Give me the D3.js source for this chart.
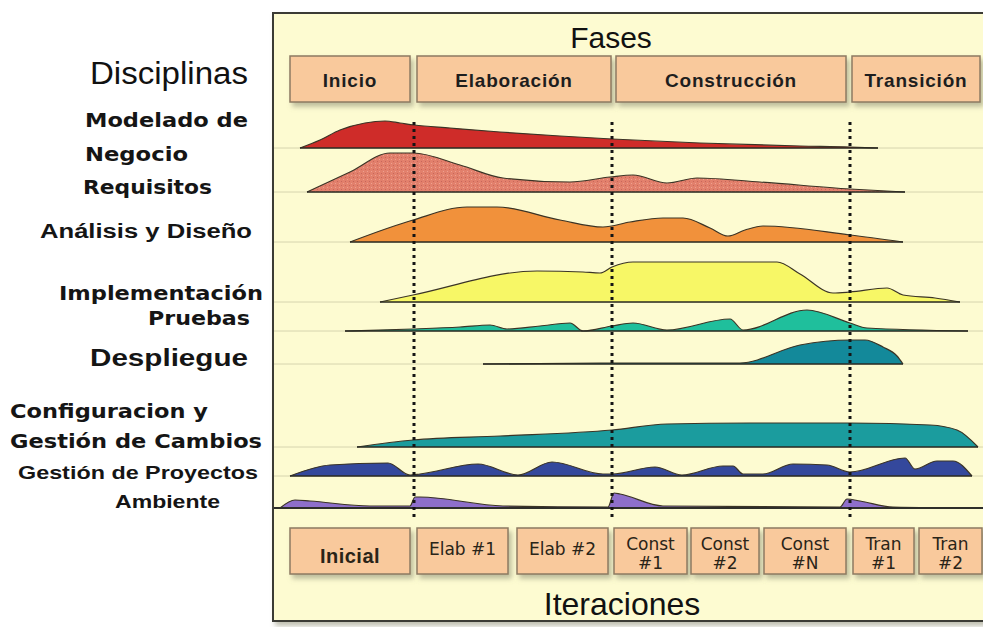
<!DOCTYPE html>
<html>
<head>
<meta charset="utf-8">
<script src="https://cdn.jsdelivr.net/npm/d3@7"></script>
<style>
  body { margin: 0; background: #ffffff; }
  svg { display: block; }
</style>
</head>
<body>
<svg id="vis"></svg>
<script>
(function() {
  // disciplinas (filas del gráfico)
  var disciplinas = ["Modelado de Negocio", "Requisitos", "Análisis y Diseño", "Implementación",
    "Pruebas", "Despliegue", "Configuracion y Gestión de Cambios", "Gestión de Proyectos", "Ambiente"];

  // esfuerzo por disciplina: [tiempo, esfuerzo]
  var modeladoNegocio = [[4,0],[8,8],[12,18],[17,25],[21,27],[24,25],[26.8,23],[34,20],[44,16],[56,12],[66.4,9],[84,5],[104,2],[114,1],[119.6,0]];
  var requisitos = [[5.4,0],[14,20],[22,39],[26.6,39],[36,27],[44.6,14],[58,10],[66,15],[70.6,17],[77.4,9],[83.4,14],[96,10],[114,3],[125,0]];
  var analisisDiseno = [[14,0],[26.6,22],[37.4,35],[43.4,35],[56,22],[64.6,15],[70,20],[76.6,24],[80.6,24],[86,14],[89.6,6],[93,12],[96.6,16],[114,7],[124.6,0]];
  var implementacion = [[20,0],[26.6,7],[51.4,31],[60.6,30],[64,29],[66.4,35],[70.6,40],[99.4,40],[104,28],[110.6,9],[114,10],[121.4,14],[124.6,7],[131,4],[136,0]];
  var pruebas = [[13,0],[26.6,2],[36,4],[42,6],[45.4,2],[52,5],[58,8],[60.6,0],[66.4,5],[70.6,8],[77.4,1],[90,12],[92.6,1],[105.4,21],[114,8],[117.4,3],[137.6,0]];
  var despliegue = [[40.6,0],[64,1],[92,1],[104,19],[114,24],[117,24],[120.6,17],[123.4,8],[124.6,0]];
  var configuracion = [[15.4,0],[26.6,7],[44,11],[66.4,17],[77.4,23],[94,24],[114,24],[130,22],[135.4,17],[139.6,0]];
  var gestionProyectos = [[2,0],[10,11],[21.6,13],[26,1],[28,2],[39.6,12],[47.6,1],[54.4,14],[64.6,2],[66.4,2],[75,9],[80.4,1],[88.6,10],[90.6,10],[92.6,2],[96.6,2],[102.6,12],[109.4,11],[114,4],[125,18],[127,7],[131.4,15],[134.6,15],[138.4,0]];
  var ambiente = [[0,0],[3,8],[6,7],[18,2],[26,2],[27,11],[28,11],[44.6,2],[65.6,1],[66.8,15],[68,14],[76.6,2],[112,1],[113.4,9],[116,7],[122.6,1],[140.6,0]];

  var esfuerzos = [modeladoNegocio, requisitos, analisisDiseno, implementacion, pruebas,
    despliegue, configuracion, gestionProyectos, ambiente];

  // fases
  var fases = ["Inicio", "Elaboración", "Construcción", "Transición"];
  var faseInicio = [2, 27.4, 67.2, 114.4];
  var faseFin = [26, 66.2, 113.2, 140];

  // iteraciones
  var iteraciones = ["Inicial", "Elab #1", "Elab #2", "Const #1", "Const #2", "Const #N", "Tran #1", "Tran #2"];
  var iterInicio = [2, 27.4, 47.4, 66.8, 82.2, 96.8, 114.6, 127.8];
  var iterFin = [26, 45.6, 65.6, 81.4, 95.8, 113.2, 126.8, 140.4];

  // hitos entre fases
  var hitos = [26.8, 66.4, 114];

  var colores = ["#cf2c29", "#e2806c", "#f1913b", "#f7f766", "#1fbf9c", "#13899a", "#1b9c9e", "#34489c", "#8e6fcb"];

  // layout
  var width = 983, height = 627;
  var filaBase = [148, 192, 242, 302, 331, 364, 447, 476, 508];
  var ancha = "'DejaVu Sans', Verdana, sans-serif";
  var estrecha = "'Liberation Sans', Arial, sans-serif";
  var etiquetas = [
    { t: "Modelado de", x0: 85, x1: 248, y: 127, s: 19, f: ancha },
    { t: "Negocio", x0: 85, x1: 188, y: 161, s: 19, f: ancha },
    { t: "Requisitos", x0: 83, x1: 212, y: 194, s: 19, f: ancha },
    { t: "Análisis y Diseño", x0: 40, x1: 252, y: 238, s: 20, f: estrecha },
    { t: "Implementación", x0: 59, x1: 263, y: 300, s: 19, f: ancha },
    { t: "Pruebas", x0: 148, x1: 250, y: 325, s: 19, f: ancha },
    { t: "Despliegue", x0: 90, x1: 248, y: 366, s: 23, f: estrecha },
    { t: "Configuracion y", x0: 10, x1: 208, y: 418, s: 20, f: ancha },
    { t: "Gestión de Cambios", x0: 10, x1: 262, y: 448, s: 20, f: ancha },
    { t: "Gestión de Proyectos", x0: 18, x1: 258, y: 479, s: 19, f: estrecha },
    { t: "Ambiente", x0: 115, x1: 220, y: 508, s: 18, f: estrecha }
  ];

  var chart = d3.select("#vis")
    .attr("width", width)
    .attr("height", height)
    .style("font-family", estrecha);

  var x = d3.scaleLinear().domain([0, 140]).range([280, 980]);
  var h = d3.scaleLinear().domain([0, 40]).range([0, 40]);

  var defs = chart.append("defs");
  var sombra = defs.append("filter").attr("id", "sombra")
    .attr("x", "-10%").attr("y", "-10%").attr("width", "130%").attr("height", "150%");
  sombra.append("feDropShadow").attr("dx", 3).attr("dy", 4).attr("stdDeviation", 2.5)
    .attr("flood-color", "#8a8a70").attr("flood-opacity", 0.55);

  var punteado = defs.append("pattern").attr("id", "punteado")
    .attr("width", 4).attr("height", 4).attr("patternUnits", "userSpaceOnUse");
  punteado.append("rect").attr("width", 4).attr("height", 4).attr("fill", colores[1]);
  punteado.append("rect").attr("x", 1).attr("y", 1).attr("width", 1).attr("height", 1).attr("fill", "#c8665a");
  punteado.append("rect").attr("x", 3).attr("y", 3).attr("width", 1).attr("height", 1).attr("fill", "#eea090");

  // panel
  chart.append("rect")
    .attr("x", 273).attr("y", 13).attr("width", 730).attr("height", 608)
    .attr("fill", "#fdfbd1").attr("stroke", "#3a3a36").attr("stroke-width", 2)
    .attr("filter", "url(#sombra)");

  chart.append("text").attr("x", 611).attr("y", 48).attr("text-anchor", "middle")
    .attr("font-size", 30).attr("fill", "#111").text("Fases");

  chart.append("text").attr("x", 622).attr("y", 615).attr("text-anchor", "middle")
    .attr("font-size", 32).attr("fill", "#111").text("Iteraciones");

  // líneas base
  chart.append("g").selectAll("line")
    .data(filaBase.slice(0, 8))
    .enter().append("line")
    .attr("x1", 274).attr("x2", width)
    .attr("y1", function(d) { return d; }).attr("y2", function(d) { return d; })
    .attr("stroke", "#d6d4ae").attr("stroke-width", 1);

  // disciplinas
  var capas = chart.append("g");
  esfuerzos.forEach(function(serie, i) {
    var base = filaBase[i];
    var area = d3.area()
      .x(function(d) { return x(d[0]); })
      .y0(base)
      .y1(function(d) { return base - h(d[1]); })
      .curve(d3.curveMonotoneX);
    var linea = d3.line()
      .x(function(d) { return x(d[0]); })
      .y(function(d) { return base - h(d[1]); })
      .curve(d3.curveMonotoneX);
    capas.append("path").datum(serie)
      .attr("d", area)
      .attr("fill", i === 1 ? "url(#punteado)" : colores[i]);
    capas.append("path").datum(serie)
      .attr("d", linea)
      .attr("fill", "none").attr("stroke", "#3b3426").attr("stroke-width", 1.2);
    capas.append("line")
      .attr("x1", x(serie[0][0])).attr("x2", x(serie[serie.length - 1][0]))
      .attr("y1", base).attr("y2", base)
      .attr("stroke", "#2a2a22").attr("stroke-width", 1.6);
  });

  // línea inferior de Ambiente
  chart.append("line")
    .attr("x1", 274).attr("x2", width)
    .attr("y1", filaBase[8]).attr("y2", filaBase[8])
    .attr("stroke", "#2e2e2a").attr("stroke-width", 2);

  // hitos
  chart.append("g").selectAll("line")
    .data(hitos)
    .enter().append("line")
    .attr("x1", function(d) { return x(d); }).attr("x2", function(d) { return x(d); })
    .attr("y1", 122).attr("y2", 519)
    .attr("stroke", "#151515").attr("stroke-width", 3)
    .attr("stroke-dasharray", "3,4");

  // cajas de fases
  var gf = chart.append("g").selectAll("g")
    .data(fases)
    .enter().append("g");
  gf.append("rect")
    .attr("x", function(d, i) { return x(faseInicio[i]); })
    .attr("width", function(d, i) { return x(faseFin[i]) - x(faseInicio[i]); })
    .attr("y", 56).attr("height", 46)
    .attr("fill", "#f9c99c").attr("stroke", "#8d7a62").attr("stroke-width", 1.5)
    .attr("filter", "url(#sombra)");
  gf.append("text")
    .attr("x", function(d, i) { return (x(faseInicio[i]) + x(faseFin[i])) / 2; })
    .attr("y", 87).attr("text-anchor", "middle")
    .attr("font-size", 19).attr("font-weight", "bold").attr("letter-spacing", 0.8)
    .attr("fill", "#1e1e1e")
    .text(function(d) { return d; });

  // cajas de iteraciones
  var gi = chart.append("g").selectAll("g")
    .data(iteraciones)
    .enter().append("g");
  gi.append("rect")
    .attr("x", function(d, i) { return x(iterInicio[i]); })
    .attr("width", function(d, i) { return x(iterFin[i]) - x(iterInicio[i]); })
    .attr("y", 528).attr("height", 46)
    .attr("fill", "#f9c99c").attr("stroke", "#8d7a62").attr("stroke-width", 1.5)
    .attr("filter", "url(#sombra)");
  gi.each(function(d, i) {
    var cx = (x(iterInicio[i]) + x(iterFin[i])) / 2;
    var w = x(iterFin[i]) - x(iterInicio[i]);
    var t = d3.select(this).append("text")
      .attr("text-anchor", "middle").attr("fill", "#2a2418");
    if (i === 0) {
      t.attr("x", cx).attr("y", 563)
        .attr("font-size", 20).attr("font-weight", "bold").attr("letter-spacing", 0.5)
        .text(d);
    } else if (w < 88) {
      var partes = d.split(" ");
      t.style("font-family", ancha).attr("font-size", 17);
      t.append("tspan").attr("x", cx).attr("y", 550).text(partes[0]);
      t.append("tspan").attr("x", cx).attr("y", 569).text(partes[1]);
    } else {
      t.style("font-family", ancha).attr("font-size", 17)
        .attr("x", cx).attr("y", 555).text(d);
    }
  });

  // etiquetas de disciplinas
  chart.append("text").attr("x", 90).attr("y", 84)
    .attr("textLength", 158).attr("lengthAdjust", "spacingAndGlyphs")
    .attr("font-size", 31).attr("fill", "#111").text("Disciplinas");

  chart.append("g").selectAll("text")
    .data(etiquetas)
    .enter().append("text")
    .attr("x", function(d) { return d.x0; })
    .attr("y", function(d) { return d.y; })
    .attr("textLength", function(d) { return d.x1 - d.x0; })
    .attr("lengthAdjust", "spacingAndGlyphs")
    .attr("font-size", function(d) { return d.s; })
    .style("font-family", function(d) { return d.f; })
    .attr("font-weight", "bold").attr("fill", "#151515")
    .text(function(d) { return d.t; });

}());
</script>
</body>
</html>
